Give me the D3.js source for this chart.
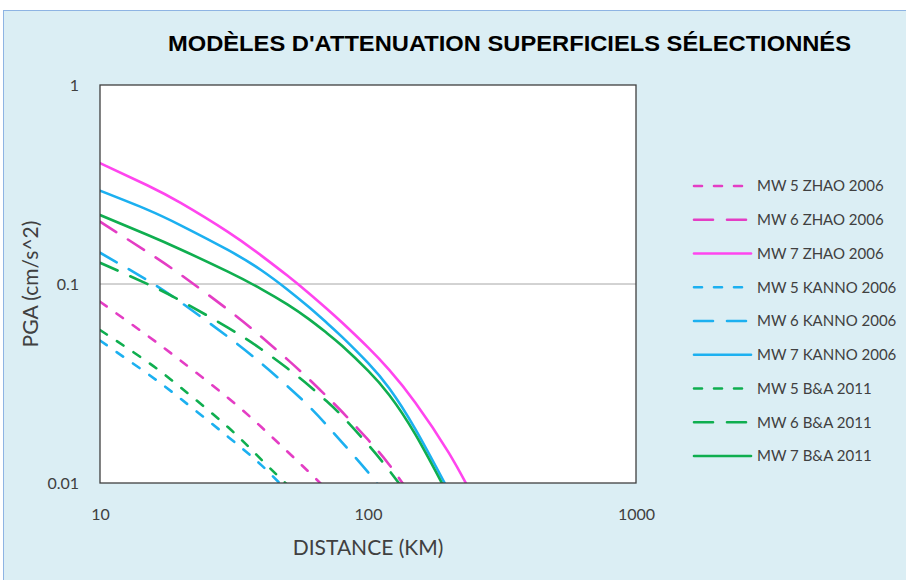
<!DOCTYPE html>
<html>
<head>
<meta charset="utf-8">
<script src="https://cdn.jsdelivr.net/npm/d3@7"></script>
<style>
  body { margin: 0; background: #ffffff; }
  svg { display: block; }
</style>
</head>
<body>
<svg id="chart" width="906" height="580"></svg>
<script>
// Distances (km) at which the attenuation curves are sampled
const distances = [10, 15, 20, 30, 40, 50, 60, 70, 80, 100, 120, 150, 200, 250];

// PGA values per model, sampled at the distances above
const mw5Zhao  = [0.0815, 0.0551, 0.0412, 0.0268, 0.0191, 0.0144, 0.0114, 0.0093];
const mw6Zhao  = [0.2056, 0.145, 0.1114, 0.0744, 0.0543, 0.0418, 0.0334, 0.0273, 0.0228, 0.0165, 0.01236, 0.0081];
const mw7Zhao  = [0.405, 0.3136, 0.2555, 0.1827, 0.1389, 0.1102, 0.0901, 0.0753, 0.064, 0.048, 0.037, 0.0254, 0.0142, 0.00825];
const mw5Kanno = [0.052, 0.0355, 0.0265, 0.0171, 0.0123, 0.0091];
const mw6Kanno = [0.1437, 0.1046, 0.081, 0.0543, 0.0399, 0.0307, 0.0244, 0.0196, 0.016, 0.01134, 0.00824];
const mw7Kanno = [0.2943, 0.2365, 0.1972, 0.1483, 0.1173, 0.0939, 0.0768, 0.064, 0.0542, 0.0401, 0.0299, 0.0187, 0.00915];
const mw5BA    = [0.0587, 0.0407, 0.0302, 0.0191, 0.0131, 0.0098];
const mw6BA    = [0.1279, 0.1001, 0.0824, 0.0604, 0.047, 0.0377, 0.031, 0.0258, 0.0217, 0.0156, 0.01156, 0.00777];
const mw7BA    = [0.2222, 0.1767, 0.1491, 0.1153, 0.0943, 0.079, 0.0668, 0.0569, 0.0489, 0.0367, 0.0277, 0.0176, 0.0086];

const seriesLabels = [
  "MW 5 ZHAO 2006", "MW 6 ZHAO 2006", "MW 7 ZHAO 2006",
  "MW 5 KANNO 2006", "MW 6 KANNO 2006", "MW 7 KANNO 2006",
  "MW 5 B&A 2011", "MW 6 B&A 2011", "MW 7 B&A 2011"
];
const seriesValues = [mw5Zhao, mw6Zhao, mw7Zhao, mw5Kanno, mw6Kanno, mw7Kanno, mw5BA, mw6BA, mw7BA];

const xTicks = [10, 100, 1000];
const xTickLabels = ["10", "100", "1000"];
const yTicks = [1, 0.1, 0.01];
const yTickLabels = ["1", "0.1", "0.01"];

const chartTitle = "MODÈLES D'ATTENUATION SUPERFICIELS  SÉLECTIONNÉS";
const xTitle = "DISTANCE (KM)";
const yTitle = "PGA (cm/s^2)";

// Line styles: colour and dash pattern per model/magnitude
const magenta = "#e43dc4", magentaSolid = "#ff45ee";
const cyan = "#1cb0f0", green = "#0fae4f";
const shortDash = "8,12", longDash = "19,14";
const styles = [
  { color: magenta, dash: shortDash }, { color: magenta, dash: longDash }, { color: magentaSolid, dash: null },
  { color: cyan, dash: shortDash }, { color: cyan, dash: longDash }, { color: cyan, dash: null },
  { color: green, dash: shortDash }, { color: green, dash: longDash }, { color: green, dash: null }
];

const font = "Lato, 'Open Sans', sans-serif";
const textColor = "#404040";

const plot = { left: 100, right: 636, top: 85, bottom: 483 };

const svg = d3.select("#chart");

// Chart area background and border
svg.append("rect")
  .attr("x", 3.5).attr("y", 10.5)
  .attr("width", 920).attr("height", 600)
  .attr("fill", "#dbeef4")
  .attr("stroke", "#8eb4e3").attr("stroke-width", 1);

const x = d3.scaleLog().domain([10, 1000]).range([plot.left, plot.right]);
const y = d3.scaleLog().domain([0.01, 1]).range([plot.bottom, plot.top]);

// Plot area
svg.append("rect")
  .attr("x", plot.left).attr("y", plot.top)
  .attr("width", plot.right - plot.left).attr("height", plot.bottom - plot.top)
  .attr("fill", "#ffffff");

// Major gridline inside the plot
svg.append("g")
  .selectAll("line")
  .data(yTicks.filter(v => v > 0.01 && v < 1))
  .join("line")
  .attr("x1", plot.left).attr("x2", plot.right)
  .attr("y1", d => y(d)).attr("y2", d => y(d))
  .attr("stroke", "#a6a6a6").attr("stroke-width", 1);

svg.append("clipPath").attr("id", "plot-clip")
  .append("rect")
  .attr("x", plot.left).attr("y", plot.top)
  .attr("width", plot.right - plot.left).attr("height", plot.bottom - plot.top);

const line = d3.line()
  .x(d => x(d[0]))
  .y(d => y(d[1]))
  .curve(d3.curveNatural);

const seriesData = seriesValues.map(vals => vals.map((v, i) => [distances[i], v]));

svg.append("g")
  .attr("clip-path", "url(#plot-clip)")
  .selectAll("path")
  .data(seriesData)
  .join("path")
  .attr("d", line)
  .attr("fill", "none")
  .attr("stroke", (d, i) => styles[i].color)
  .attr("stroke-width", 2.6)
  .attr("stroke-linecap", "round")
  .attr("stroke-dasharray", (d, i) => styles[i].dash);

// Plot frame
svg.append("rect")
  .attr("x", plot.left).attr("y", plot.top)
  .attr("width", plot.right - plot.left).attr("height", plot.bottom - plot.top)
  .attr("fill", "none")
  .attr("stroke", "#3f3f3f").attr("stroke-width", 1.3);

// Axes
const xAxis = d3.axisBottom(x)
  .tickValues(xTicks)
  .tickFormat((d, i) => xTickLabels[i])
  .tickSize(0).tickPadding(26);
const yAxis = d3.axisLeft(y)
  .tickValues(yTicks)
  .tickFormat((d, i) => yTickLabels[i])
  .tickSize(0).tickPadding(21);

const gx = svg.append("g").attr("transform", `translate(0,${plot.bottom})`).call(xAxis);
const gy = svg.append("g").attr("transform", `translate(${plot.left},0)`).call(yAxis);
[gx, gy].forEach(g => {
  g.select(".domain").remove();
  g.selectAll("text")
    .attr("fill", textColor)
    .style("font-family", font)
    .style("font-size", "16px");
});

// Titles
svg.append("text")
  .attr("x", 168).attr("y", 51)
  .attr("textLength", 683).attr("lengthAdjust", "spacingAndGlyphs")
  .style("font-family", "'Liberation Sans Narrow', 'Liberation Sans', Arial, sans-serif")
  .style("font-weight", "bold")
  .style("font-size", "22px")
  .attr("fill", "#000000")
  .text(chartTitle);

svg.append("text")
  .attr("x", (plot.left + plot.right) / 2).attr("y", 555)
  .attr("text-anchor", "middle")
  .style("font-family", font).style("font-size", "21px")
  .attr("fill", textColor)
  .text(xTitle);

svg.append("text")
  .attr("transform", `translate(38,${(plot.top + plot.bottom) / 2}) rotate(-90)`)
  .attr("text-anchor", "middle")
  .style("font-family", font).style("font-size", "21px")
  .attr("fill", textColor)
  .text(yTitle);

// Legend
const legend = svg.append("g");
const legendItems = legend.selectAll("g")
  .data(seriesLabels)
  .join("g")
  .attr("transform", (d, i) => `translate(0,${186 + i * 33.75})`);

legendItems.append("line")
  .attr("x1", 694).attr("x2", 751)
  .attr("y1", 0).attr("y2", 0)
  .attr("stroke", (d, i) => styles[i].color)
  .attr("stroke-width", 2.6)
  .attr("stroke-linecap", "round")
  .attr("stroke-dasharray", (d, i) => styles[i].dash);

legendItems.append("text")
  .attr("x", 757).attr("y", 0)
  .attr("dy", "0.35em")
  .style("font-family", font).style("font-size", "15px")
  .attr("fill", textColor)
  .text(d => d);
</script>
</body>
</html>
